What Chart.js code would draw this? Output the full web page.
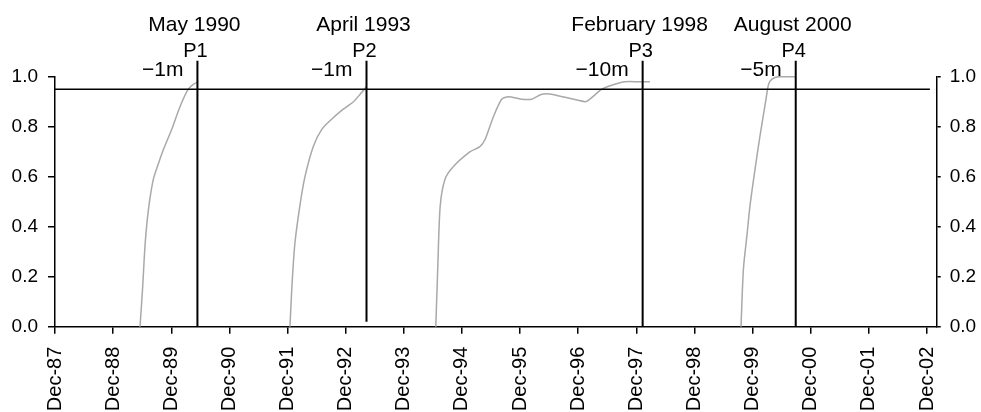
<!DOCTYPE html>
<html>
<head>
<meta charset="utf-8">
<script src="https://cdn.jsdelivr.net/npm/chart.js@4/dist/chart.umd.min.js"></script>
<style>
	html, body { margin: 0; padding: 0; background: #fff; }
	#wrap { width: 981px; height: 412px; }
</style>
</head>
<body>
<div id="wrap"><canvas id="lineCanvas" width="981" height="412"></canvas></div>
<script>

// x values are months counted from Dec-87
const xTickLabels = ['Dec-87', 'Dec-88', 'Dec-89', 'Dec-90', 'Dec-91', 'Dec-92', 'Dec-93', 'Dec-94',
	'Dec-95', 'Dec-96', 'Dec-97', 'Dec-98', 'Dec-99', 'Dec-00', 'Dec-01', 'Dec-02'];
const yTicks = [0, 0.2, 0.4, 0.6, 0.8, 1.0];

const seg1Months = [17.55, 18.1, 18.6, 19.3, 20.3, 21.3, 22.4, 24.1, 25.8, 27.5, 28.6, 29.6];
const seg1Values = [0, 0.16, 0.33, 0.47, 0.59, 0.65, 0.71, 0.79, 0.88, 0.95, 0.97, 0.98];

const seg2Months = [48.5, 48.9, 49.5, 50.6, 51.6, 53.3, 55.1, 57.1, 59.5, 61.6, 63.0, 64.3];
const seg2Values = [0, 0.16, 0.33, 0.49, 0.60, 0.72, 0.79, 0.83, 0.87, 0.90, 0.93, 0.96];

const seg3Months = [78.6, 79.0, 79.5, 80.5, 82.2, 85.7, 87.7, 88.8, 90.5, 92.2, 93.6, 96.3, 98.4,
	100.5, 102.5, 109.4, 110.4, 112.9, 115.6, 117.7, 120.4, 122.8];
const seg3Values = [0, 0.23, 0.48, 0.59, 0.64, 0.70, 0.72, 0.75, 0.84, 0.91, 0.92, 0.91, 0.91,
	0.93, 0.93, 0.90, 0.91, 0.95, 0.97, 0.98, 0.98, 0.98];

const seg4Months = [141.6, 142.1, 142.8, 143.5, 144.5, 145.5, 146.6, 147.3, 148.0, 149.3, 152.8];
const seg4Values = [0, 0.23, 0.36, 0.49, 0.63, 0.76, 0.89, 0.97, 0.99, 1.0, 1.0];

// event markers P1..P4
const eventNames = ['P1', 'P2', 'P3', 'P4'];
const eventDates = ['May 1990', 'April 1993', 'February 1998', 'August 2000'];
const eventLeads = ['\u22121m', '\u22121m', '\u221210m', '\u22125m'];
const eventMonths = [29.4, 64.3, 121.3, 152.9];
const eventTop = 1.064;
const eventBottom = [0, 0.02, 0, 0];

const thresholdValue = 0.95;
const thresholdRange = [0, 180.6];

const FONT = 'Liberation Sans, Arial, Helvetica, sans-serif';

function toPoints(xs, ys) {
	let pts = [];
	for (let i = 0; i < xs.length; i++) {
		pts.push({ x: xs[i], y: ys[i] });
	}
	return pts;
}

let datasets = [];

// black vertical lines first so they sit on top
for (let i = 0; i < eventMonths.length; i++) {
	datasets.push({
		data: [{ x: eventMonths[i], y: eventTop }, { x: eventMonths[i], y: eventBottom[i] }],
		borderColor: '#000',
		borderWidth: 2,
		pointRadius: 0,
		clip: false
	});
}

datasets.push({
	data: [{ x: thresholdRange[0], y: thresholdValue }, { x: thresholdRange[1], y: thresholdValue }],
	borderColor: '#000',
	borderWidth: 1.5,
	pointRadius: 0,
	clip: false
});

[[seg1Months, seg1Values], [seg2Months, seg2Values], [seg3Months, seg3Values], [seg4Months, seg4Values]]
	.forEach(function(s) {
		datasets.push({
			data: toPoints(s[0], s[1]),
			borderColor: '#a9a9a9',
			borderWidth: 1.5,
			pointRadius: 0,
			tension: 0.25,
			clip: false
		});
	});

// labels above each vertical line
const eventLabels = {
	id: 'eventLabels',
	afterDatasetsDraw(chart) {
		const c = chart.ctx;
		const top = chart.chartArea.top;
		const xs = chart.scales.x;
		c.save();
		c.fillStyle = '#000';
		c.textBaseline = 'alphabetic';
		for (let i = 0; i < eventMonths.length; i++) {
			const px = xs.getPixelForValue(eventMonths[i]);
			c.textAlign = 'center';
			c.font = '21px ' + FONT;
			c.fillText(eventDates[i], px - 3, top - 46);
			c.font = '20px ' + FONT;
			c.fillText(eventNames[i], px - 2, top - 20);
			c.textAlign = 'right';
			c.font = '21px ' + FONT;
			c.fillText(eventLeads[i], px - 14, top - 0.5);
		}
		c.restore();
	}
};

function yAxis(pos, width, tickLen, pad) {
	return {
		type: 'linear',
		position: pos,
		min: 0,
		max: 1,
		afterBuildTicks: function(scale) {
			scale.ticks = yTicks.map(v => ({ value: v }));
		},
		afterFit: function(scale) {
			scale.width = width;
		},
		border: { display: true, color: '#000', width: 1.5 },
		grid: { drawOnChartArea: false, drawTicks: true, tickLength: tickLen, color: '#000', lineWidth: 1.5 },
		ticks: {
			color: '#000',
			font: { family: FONT, size: 19 },
			padding: pad,
			callback: function(v) { return v.toFixed(1); }
		}
	};
}

new Chart(document.getElementById('lineCanvas').getContext('2d'), {
	type: 'line',
	data: { datasets: datasets },
	plugins: [eventLabels],
	options: {
		responsive: false,
		animation: false,
		layout: { padding: { top: 76.7, left: 0, right: 0, bottom: 0 } },
		plugins: {
			legend: { display: false },
			tooltip: { enabled: false }
		},
		scales: {
			x: {
				type: 'linear',
				min: 0,
				max: 182,
				afterBuildTicks: function(scale) {
					scale.ticks = xTickLabels.map((_, i) => ({ value: i * 12 }));
				},
				afterFit: function(scale) {
					scale.height = 412 - 326.7;
				},
				border: { display: true, color: '#000', width: 1.5 },
				grid: { drawOnChartArea: false, drawTicks: true, tickLength: 7, color: '#000', lineWidth: 1.5 },
				ticks: {
					color: '#000',
					font: { family: FONT, size: 20 },
					padding: 13,
					autoSkip: false,
					maxRotation: 90,
					minRotation: 90,
					callback: function(v) { return xTickLabels[Math.round(v / 12)]; }
				}
			},
			y: yAxis('left', 55, 7, 10),
			y2: yAxis('right', 981 - 936.7, 4, 9)
		}
	}
});
</script>
</body>
</html>
